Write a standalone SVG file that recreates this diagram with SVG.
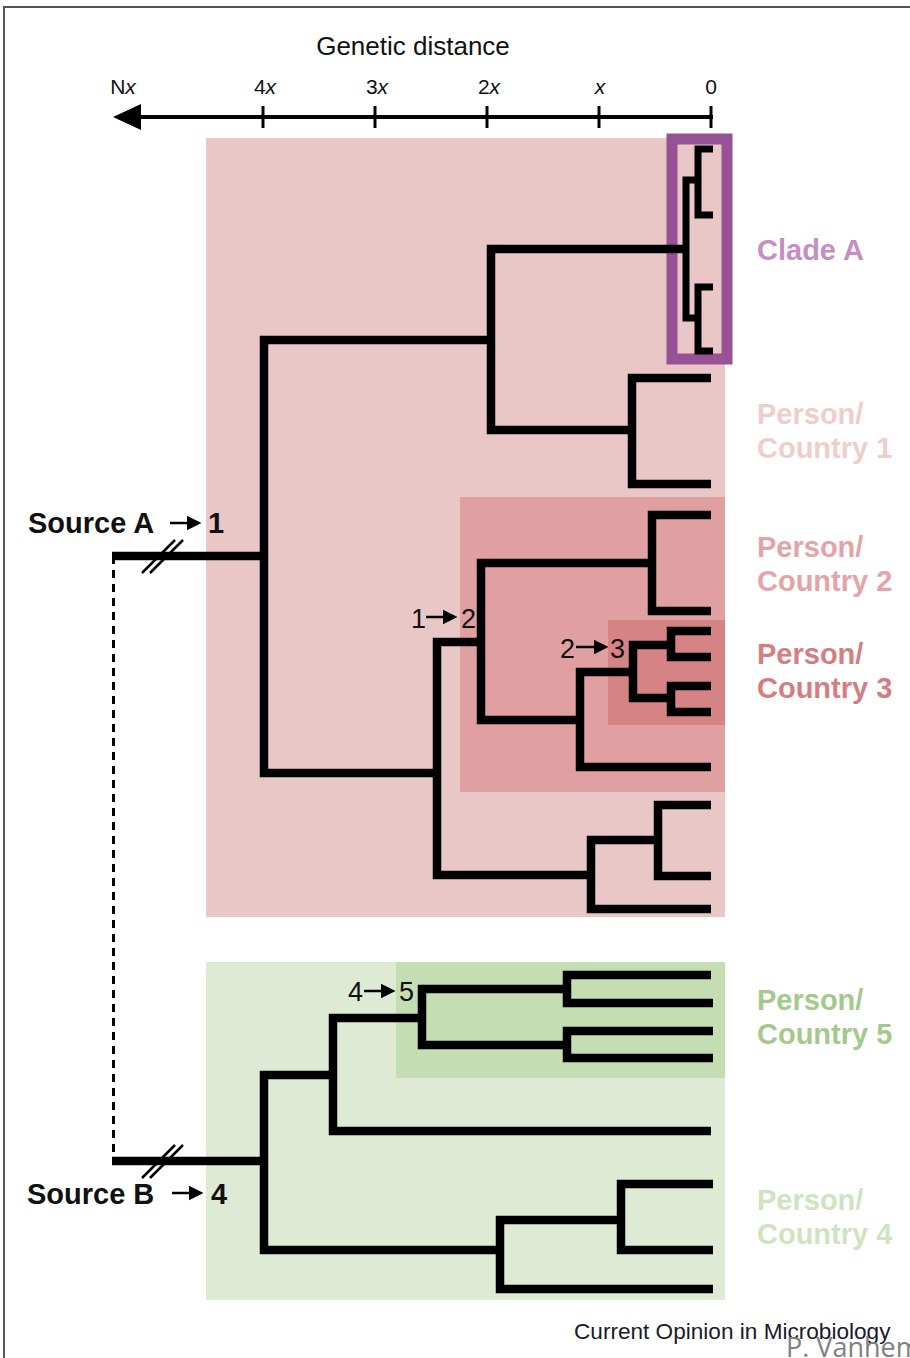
<svg xmlns="http://www.w3.org/2000/svg" width="910" height="1358" viewBox="0 0 910 1358">
<defs>
<style>
.br{fill:none;stroke:#000;stroke-width:8.5;stroke-linejoin:miter;stroke-linecap:butt}
.brc{fill:none;stroke:#000;stroke-width:7;stroke-linejoin:miter;stroke-linecap:butt}
.ax{font-family:"Liberation Sans",Arial,sans-serif;font-size:21px;fill:#111;text-anchor:middle}
.lbl{font-family:"Liberation Sans",Arial,sans-serif;font-size:29px;font-weight:bold}
.num{font-family:"Liberation Sans",Arial,sans-serif;font-size:27px;fill:#111}
.src{font-family:"Liberation Sans",Arial,sans-serif;font-size:29px;font-weight:bold;fill:#111}
.sl{stroke:#000;stroke-width:2.5;fill:none}
.la{stroke:#000;stroke-width:2.5;fill:none;marker-end:url(#ah)}
</style>
<marker id="ah" viewBox="0 0 10 10" refX="1" refY="5" markerWidth="6" markerHeight="6" markerUnits="strokeWidth" orient="auto">
<path d="M0,0 L10,5 L0,10 Z" fill="#000"/>
</marker>
</defs>
<rect width="910" height="1358" fill="#fff"/>
<path d="M4,1358 V7 H910" fill="none" stroke="#555" stroke-width="2"/>

<g id="axis">
<text x="413" y="55" font-family="Liberation Sans,Arial,sans-serif" font-size="26" fill="#111" text-anchor="middle">Genetic distance</text>
<text class="ax" x="123" y="94">N<tspan font-style="italic">x</tspan></text>
<text class="ax" x="265" y="94">4<tspan font-style="italic">x</tspan></text>
<text class="ax" x="377" y="94">3<tspan font-style="italic">x</tspan></text>
<text class="ax" x="489" y="94">2<tspan font-style="italic">x</tspan></text>
<text class="ax" x="600" y="94" font-style="italic">x</text>
<text class="ax" x="711" y="94">0</text>
<line x1="138" y1="117" x2="713" y2="117" stroke="#000" stroke-width="4"/>
<path d="M113,117 L141,104 L141,130 Z" fill="#000"/>
<g stroke="#000" stroke-width="3">
<line x1="263" y1="106" x2="263" y2="128"/>
<line x1="375" y1="106" x2="375" y2="128"/>
<line x1="487" y1="106" x2="487" y2="128"/>
<line x1="599" y1="106" x2="599" y2="128"/>
<line x1="711" y1="106" x2="711" y2="128"/>
</g>
</g>

<g id="region-source-a">
<rect x="206" y="138" width="519" height="779" fill="#EAC7C7"/>
</g>
<g id="region-country-2">
<rect x="460" y="497" width="265" height="295" fill="#E0A0A2"/>
</g>
<g id="region-country-3">
<rect x="608" y="620" width="117" height="105" fill="#D58385"/>
</g>
<g id="region-source-b">
<rect x="206" y="962" width="519" height="338" fill="#DFEAD4"/>
</g>
<g id="region-country-5">
<rect x="396" y="962" width="329" height="116" fill="#C5DDB2"/>
</g>
<g id="clade-a-box">
<rect x="672" y="139" width="55" height="220" fill="none" stroke="#985195" stroke-width="11"/>
</g>

<g id="connectors">
<line x1="113.5" y1="556" x2="113.5" y2="1161" stroke="#000" stroke-width="3" stroke-dasharray="8,6"/>
<path class="br" d="M112,556 H264"/>
<path class="br" d="M491,340 H264 V773 H437"/>
<path class="br" d="M686,249 H491 V430 H632"/>
<path class="br" d="M711,378 H632 V484 H711"/>
<path class="br" d="M481,642 H437 V875 H591"/>
<path class="br" d="M652,563 H481 V720 H580"/>
<path class="br" d="M711,515 H652 V611 H711"/>
<path class="br" d="M633,672 H580 V767 H711"/>
<path class="br" d="M671,645 H633 V698 H671"/>
<path class="br" d="M711,631 H671 V657 H711"/>
<path class="br" d="M711,686 H671 V712 H711"/>
<path class="br" d="M658,840 H591 V909 H711"/>
<path class="br" d="M711,805 H658 V876 H711"/>
<path class="brc" d="M698,180 H686 V318 H698"/>
<path class="brc" d="M713,149 H698 V215 H713"/>
<path class="brc" d="M713,287 H698 V351 H713"/>
<path class="br" d="M112,1161 H264"/>
<path class="br" d="M333,1075 H264 V1250 H500"/>
<path class="br" d="M422,1018 H333 V1131 H711"/>
<path class="br" d="M567,989 H422 V1045 H567"/>
<path class="br" d="M711,975 H567 V1003 H713"/>
<path class="br" d="M713,1031 H567 V1058 H713"/>
<path class="br" d="M621,1220 H500 V1289 H713"/>
<path class="br" d="M713,1184 H621 V1250 H713"/>
<path class="sl" d="M142,573 L175,540 M150,573 L183,540"/>
<path class="sl" d="M142,1178 L175,1145 M150,1178 L183,1145"/>
</g>

<g id="source-a">
<text class="src" x="28" y="533">Source A</text>
<line class="la" x1="170" y1="523" x2="188" y2="523"/>
<text class="src" x="208" y="533">1</text>
</g>
<g id="source-b">
<text class="src" x="27" y="1204">Source B</text>
<line class="la" x1="172" y1="1193" x2="190" y2="1193"/>
<text class="src" x="211" y="1204">4</text>
</g>
<g id="transition-1-2">
<text class="num" x="411" y="628">1</text>
<line class="la" x1="426" y1="617" x2="444" y2="617"/>
<text class="num" x="461" y="628">2</text>
</g>
<g id="transition-2-3">
<text class="num" x="560" y="658">2</text>
<line class="la" x1="576" y1="647" x2="595" y2="647"/>
<text class="num" x="610" y="658">3</text>
</g>
<g id="transition-4-5">
<text class="num" x="348" y="1001">4</text>
<line class="la" x1="364" y1="991" x2="382" y2="991"/>
<text class="num" x="399" y="1001">5</text>
</g>

<g id="label-clade-a">
<text class="lbl" x="757" y="260" fill="#C48FC2">Clade A</text>
</g>
<g id="label-country-1">
<text class="lbl" x="757" y="424" fill="#F0CDCD">Person/</text>
<text class="lbl" x="757" y="458" fill="#F0CDCD">Country 1</text>
</g>
<g id="label-country-2">
<text class="lbl" x="757" y="557" fill="#E4A4A7">Person/</text>
<text class="lbl" x="757" y="591" fill="#E4A4A7">Country 2</text>
</g>
<g id="label-country-3">
<text class="lbl" x="757" y="664" fill="#D57E82">Person/</text>
<text class="lbl" x="757" y="698" fill="#D57E82">Country 3</text>
</g>
<g id="label-country-5">
<text class="lbl" x="757" y="1010" fill="#A4C98C">Person/</text>
<text class="lbl" x="757" y="1044" fill="#A4C98C">Country 5</text>
</g>
<g id="label-country-4">
<text class="lbl" x="757" y="1210" fill="#D0E3C1">Person/</text>
<text class="lbl" x="757" y="1244" fill="#D0E3C1">Country 4</text>
</g>

<g id="footer">
<text x="574" y="1339" font-family="Liberation Sans,Arial,sans-serif" font-size="22.6" fill="#1a1a2a">Current Opinion in Microbiology</text>
<text x="786" y="1357" font-family="Open Sans,Liberation Sans,sans-serif" font-size="27" fill="#808080">P. Vanhem</text>
</g>
</svg>
